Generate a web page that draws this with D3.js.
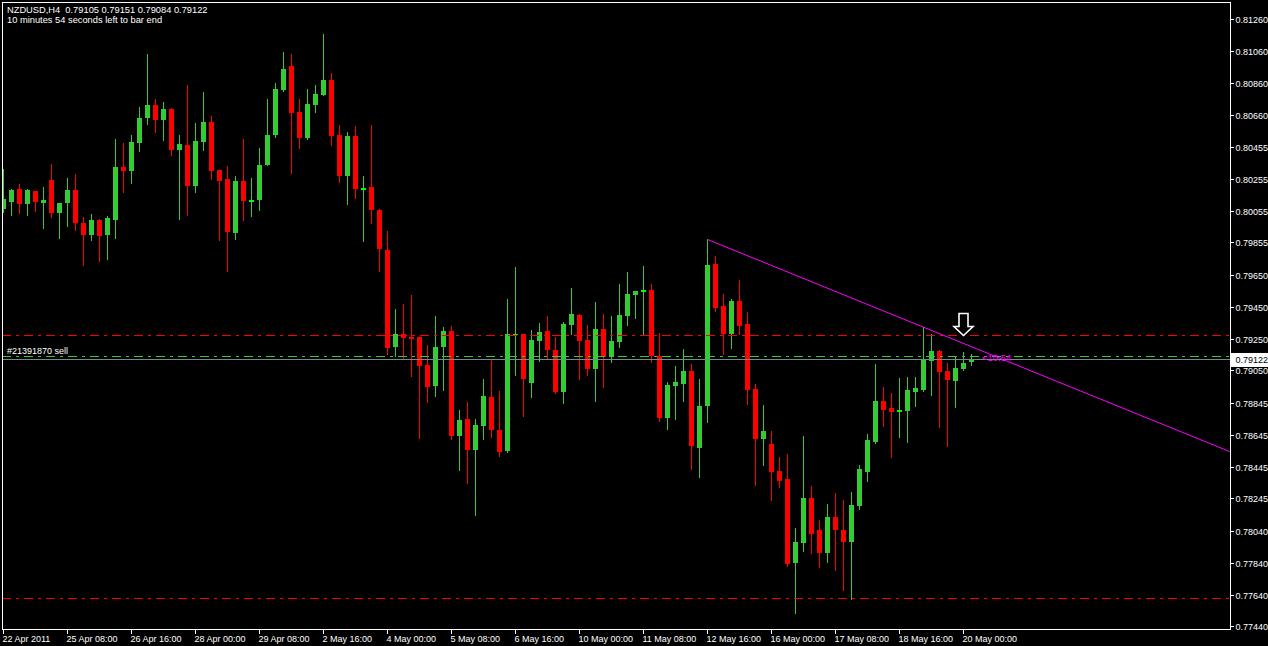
<!DOCTYPE html>
<html><head><meta charset="utf-8">
<script src="https://cdn.jsdelivr.net/npm/d3@7"></script>
<style>
html,body{margin:0;padding:0;background:#000;overflow:hidden}
svg{display:block}
text{font-family:"Liberation Sans",Arial,sans-serif;fill:#fff}
</style>
</head><body>
<svg id="chart" width="1268" height="646"></svg>
<script>
// ---- data ----
const titleLine = "NZDUSD,H4  0.79105 0.79151 0.79084 0.79122";
const timerLine = "10 minutes 54 seconds left to bar end";

const open = [
0.80065,0.80109,0.80191,0.80097,0.80179,0.80103,0.80248,0.80040,0.80103,0.80185,
0.79977,0.79902,0.79996,0.79902,0.79996,0.80330,0.80304,0.80480,0.80638,0.80720,
0.80625,0.80694,0.80437,0.80468,0.80210,0.80487,0.80613,0.80311,0.80254,0.79914,
0.80242,0.80109,0.80122,0.80342,0.80531,0.80814,0.80965,0.80676,0.80512,0.80720,
0.80782,0.80877,0.80531,0.80273,0.80525,0.80185,0.80204,0.80059,0.79808,0.79197,
0.79279,0.79260,0.79260,0.79084,0.78952,0.79197,0.79298,0.78638,0.78745,0.78550,
0.78700,0.78883,0.78675,0.78543,0.79273,0.79279,0.78971,0.79235,0.79298,0.79178,
0.78914,0.79336,0.79399,0.79241,0.79059,0.79311,0.79135,0.79229,0.79392,0.79524,
0.79543,0.79556,0.79141,0.78751,0.78952,0.78965,0.79046,0.78562,0.78826,0.79719,
0.79455,0.79279,0.79487,0.79342,0.78933,0.78619,0.78587,0.78417,0.78367,0.77839,
0.77965,0.78248,0.78046,0.77901,0.78128,0.78046,0.77971,0.78197,0.78411,0.78600,
0.78858,0.78814,0.78789,0.78795,0.78914,0.78927,0.79109,0.79172,0.79046,0.78984,
0.79059,0.79105];
const high = [
0.80317,0.80191,0.80223,0.80191,0.80179,0.80204,0.80348,0.80105,0.80260,0.80286,
0.80015,0.80034,0.80003,0.80021,0.80506,0.80480,0.80531,0.80707,0.81040,0.80757,
0.80738,0.80701,0.80531,0.80845,0.80606,0.80801,0.80650,0.80313,0.80336,0.80273,
0.80506,0.80260,0.80449,0.80757,0.80858,0.81053,0.81040,0.80757,0.80820,0.80845,
0.81166,0.80921,0.80594,0.80550,0.80587,0.80273,0.80594,0.80065,0.79927,0.79436,
0.79468,0.79524,0.79262,0.79210,0.79392,0.79323,0.79329,0.78801,0.78851,0.78745,
0.78996,0.79122,0.78921,0.79499,0.79701,0.79281,0.79304,0.79348,0.79392,0.79260,
0.79355,0.79568,0.79405,0.79336,0.79480,0.79405,0.79392,0.79594,0.79669,0.79552,
0.79707,0.79594,0.79285,0.78977,0.79078,0.79185,0.79090,0.78996,0.79874,0.79770,
0.79531,0.79499,0.79619,0.79418,0.78965,0.78833,0.78669,0.78505,0.78524,0.78059,
0.78638,0.78323,0.78109,0.78210,0.78279,0.78235,0.78285,0.78455,0.78650,0.79090,
0.78946,0.78908,0.79002,0.79009,0.79009,0.79325,0.79279,0.79178,0.79097,0.79141,
0.79166,0.79151];
const low = [
0.80046,0.80028,0.80040,0.80028,0.80053,0.79946,0.80015,0.79883,0.79958,0.79933,
0.79713,0.79870,0.79738,0.79751,0.79883,0.80172,0.80229,0.80430,0.80600,0.80550,
0.80499,0.80405,0.80003,0.80028,0.80172,0.80437,0.80254,0.79870,0.79675,0.79877,
0.79996,0.80021,0.80059,0.80340,0.80518,0.80808,0.80292,0.80449,0.80506,0.80676,
0.80780,0.80468,0.80235,0.80097,0.80135,0.79864,0.79977,0.79675,0.79153,0.79141,
0.79122,0.79015,0.78625,0.78851,0.78889,0.78927,0.78619,0.78424,0.78342,0.78141,
0.78619,0.78631,0.78512,0.78537,0.79021,0.78763,0.78883,0.79109,0.79122,0.78908,
0.78845,0.79279,0.78996,0.79021,0.78858,0.78946,0.79103,0.79197,0.79336,0.79380,
0.79279,0.79103,0.78732,0.78682,0.78745,0.78858,0.78430,0.78380,0.78726,0.79424,
0.79153,0.79191,0.79279,0.78839,0.78329,0.78455,0.78235,0.78317,0.77820,0.77524,
0.77911,0.77901,0.77814,0.77845,0.77795,0.77669,0.77612,0.78178,0.78355,0.78594,
0.78700,0.78505,0.78631,0.78600,0.78826,0.78921,0.78896,0.78694,0.78575,0.78820,
0.79053,0.79084];
const close = [
0.80128,0.80185,0.80097,0.80185,0.80109,0.80122,0.80040,0.80103,0.80185,0.79977,
0.79902,0.79996,0.79896,0.80009,0.80330,0.80304,0.80487,0.80638,0.80720,0.80625,
0.80694,0.80437,0.80474,0.80210,0.80493,0.80613,0.80304,0.80242,0.79921,0.80242,
0.80116,0.80122,0.80342,0.80531,0.80820,0.80946,0.80669,0.80512,0.80726,0.80789,
0.80877,0.80525,0.80273,0.80525,0.80191,0.80197,0.80059,0.79814,0.79191,0.79279,
0.79254,0.79248,0.79078,0.78946,0.79197,0.79298,0.78638,0.78738,0.78550,0.78707,
0.78889,0.78675,0.78537,0.79279,0.79279,0.78996,0.79241,0.79292,0.79178,0.78914,
0.79342,0.79405,0.79235,0.79059,0.79311,0.79135,0.79235,0.79399,0.79531,0.79550,
0.79556,0.79141,0.78751,0.78958,0.78977,0.79046,0.78575,0.78826,0.79713,0.79443,
0.79279,0.79487,0.79329,0.78927,0.78619,0.78669,0.78411,0.78355,0.77832,0.77971,
0.78248,0.78021,0.77901,0.78128,0.78046,0.77971,0.78204,0.78430,0.78612,0.78858,
0.78801,0.78789,0.78801,0.78927,0.78939,0.79116,0.79172,0.79040,0.78990,0.79065,
0.79097,0.79122];

const xTickLabels = ["22 Apr 2011","25 Apr 08:00","26 Apr 16:00","28 Apr 00:00","29 Apr 08:00",
  "2 May 16:00","4 May 00:00","5 May 08:00","6 May 16:00","10 May 00:00","11 May 08:00",
  "12 May 16:00","16 May 00:00","17 May 08:00","18 May 16:00","20 May 00:00"];
const xTickBars = [0,8,16,24,32,40,48,56,64,72,80,88,96,104,112,120];
const yTickLabels = ["0.81260","0.81060","0.80860","0.80660","0.80455","0.80255","0.80055",
  "0.79855","0.79650","0.79450","0.79250","0.79050","0.78845","0.78645","0.78445","0.78245",
  "0.78040","0.77840","0.77640","0.77440"];

const orderLabel = "#21391870 sell";
const orderPrice = 0.79138;
const upperLevel = 0.79272;
const lowerLevel = 0.77616;
const trendBars = [88, 115];
const trendPrices = [0.79874, 0.79322];
const timerText = "<10:54";
const arrowBar = 120;
const arrowPrice = 0.79411;

// ---- layout ----
const W = 1268, H = 646;
const plot = {l: 2, t: 2, r: 1230, b: 630};
const svg = d3.select("#chart");
svg.append("rect").attr("width", W).attr("height", H).attr("fill", "#000");

const x = d3.scaleLinear().domain([0, 121]).range([3.5, 971.5]);
const y = d3.scaleLinear().domain([0.77440, 0.81260]).range([626.3, 19.2]);

svg.append("defs").append("clipPath").attr("id", "clip")
  .append("rect").attr("x", plot.l + 0.5).attr("y", plot.t + 0.5)
  .attr("width", plot.r - plot.l).attr("height", plot.b - plot.t);

const g = svg.append("g").attr("clip-path", "url(#clip)");

const GREEN = "#32cd32", RED = "#ff0000";
const bars = d3.range(open.length).map(i => ({i, o: open[i], h: high[i], l: low[i], c: close[i]}));

// wicks
g.selectAll("line.wick").data(bars).join("line").attr("class", "wick")
  .attr("x1", d => x(d.i)).attr("x2", d => x(d.i))
  .attr("y1", d => Math.round(y(d.h))).attr("y2", d => Math.round(y(d.l)) + 1)
  .attr("stroke", d => d.c >= d.o ? GREEN : RED).attr("stroke-width", 1);

// bodies
g.selectAll("rect.body").data(bars).join("rect").attr("class", "body")
  .attr("x", d => x(d.i) - 2.5).attr("width", 5)
  .attr("y", d => Math.round(y(Math.max(d.o, d.c))))
  .attr("height", d => Math.max(1, Math.round(y(Math.min(d.o, d.c))) - Math.round(y(Math.max(d.o, d.c)))))
  .attr("fill", d => {
    const hgt = Math.abs(y(d.o) - y(d.c));
    if (d.c >= d.o) return hgt <= 2.2 ? "#00ff00" : GREEN;
    return RED;
  });

// horizontal levels
function hline(price, color, dash) {
  const yy = Math.round(y(price)) + 0.5;
  g.append("line").attr("x1", plot.l).attr("x2", plot.r).attr("y1", yy).attr("y2", yy)
    .attr("stroke", color).attr("stroke-width", 1).attr("stroke-dasharray", dash || null);
}
hline(upperLevel, RED, "9,5,3,5");
hline(lowerLevel, RED, "9,5,3,5");
hline(orderPrice, GREEN, "9,5,3,5");
hline(close[close.length - 1], "#778899", null);

// trend line (ray)
const slope = (trendPrices[1] - trendPrices[0]) / (trendBars[1] - trendBars[0]);
const endBar = x.invert(plot.r);
g.append("line")
  .attr("x1", x(trendBars[0])).attr("y1", y(trendPrices[0]))
  .attr("x2", x(endBar)).attr("y2", y(trendPrices[0] + slope * (endBar - trendBars[0])))
  .attr("stroke", "#ff00ff").attr("stroke-width", 1);

// order label
g.append("text").attr("x", 7).attr("y", Math.round(y(orderPrice)) - 2)
  .attr("font-size", "9px").text(orderLabel);

// timer text
g.append("text").attr("x", x(121) + 10.5).attr("y", y(close[close.length - 1]) + 2.5)
  .attr("font-size", "9.5px").style("fill", "#ff00ff").text(timerText);

// arrow
const ax = x(arrowBar), at = Math.round(y(arrowPrice)) + 0.5;
g.append("path")
  .attr("d", `M${ax-4.5},${at} L${ax+4.5},${at} L${ax+4.5},${at+13} L${ax+9.5},${at+13} L${ax},${at+22} L${ax-9.5},${at+13} L${ax-4.5},${at+13} Z`)
  .attr("fill", "#000").attr("stroke", "#fff").attr("stroke-width", 1.6);

// frame
svg.append("rect").attr("x", plot.l + 0.5).attr("y", plot.t + 0.5)
  .attr("width", plot.r - plot.l).attr("height", plot.b - plot.t - 1)
  .attr("fill", "none").attr("stroke", "#fff").attr("stroke-width", 1);

// y axis
const yAx = svg.append("g");
yTickLabels.forEach(lbl => {
  const yy = Math.round(y(+lbl)) + 0.5;
  yAx.append("line").attr("x1", plot.r).attr("x2", plot.r + 4).attr("y1", yy).attr("y2", yy)
    .attr("stroke", "#fff");
  yAx.append("text").attr("x", 1235.5).attr("y", yy + 3.3).attr("font-size", "9px").text(lbl);
});

// current price box
const cy = Math.round(y(close[close.length - 1]));
svg.append("rect").attr("x", 1231).attr("y", cy - 6).attr("width", 37).attr("height", 14).attr("fill", "#fff");
svg.append("text").attr("x", 1235.5).attr("y", cy + 4.3).attr("font-size", "9px")
  .style("fill", "#000").text(close[close.length - 1].toFixed(5));

// x axis
const xAx = svg.append("g");
xTickBars.forEach((b, k) => {
  const xx = Math.round(x(b)) - 0.5;
  xAx.append("line").attr("x1", xx).attr("x2", xx).attr("y1", plot.b - 1).attr("y2", plot.b + 4)
    .attr("stroke", "#fff");
  xAx.append("text").attr("x", xx - 1).attr("y", 642).attr("font-size", "9px").text(xTickLabels[k]);
});

// header
svg.append("text").attr("x", 7).attr("y", 12.5).attr("font-size", "9.3px").attr("xml:space", "preserve").text(titleLine);
svg.append("text").attr("x", 7).attr("y", 23).attr("font-size", "9.3px").text(timerLine);
</script>
</body></html>
